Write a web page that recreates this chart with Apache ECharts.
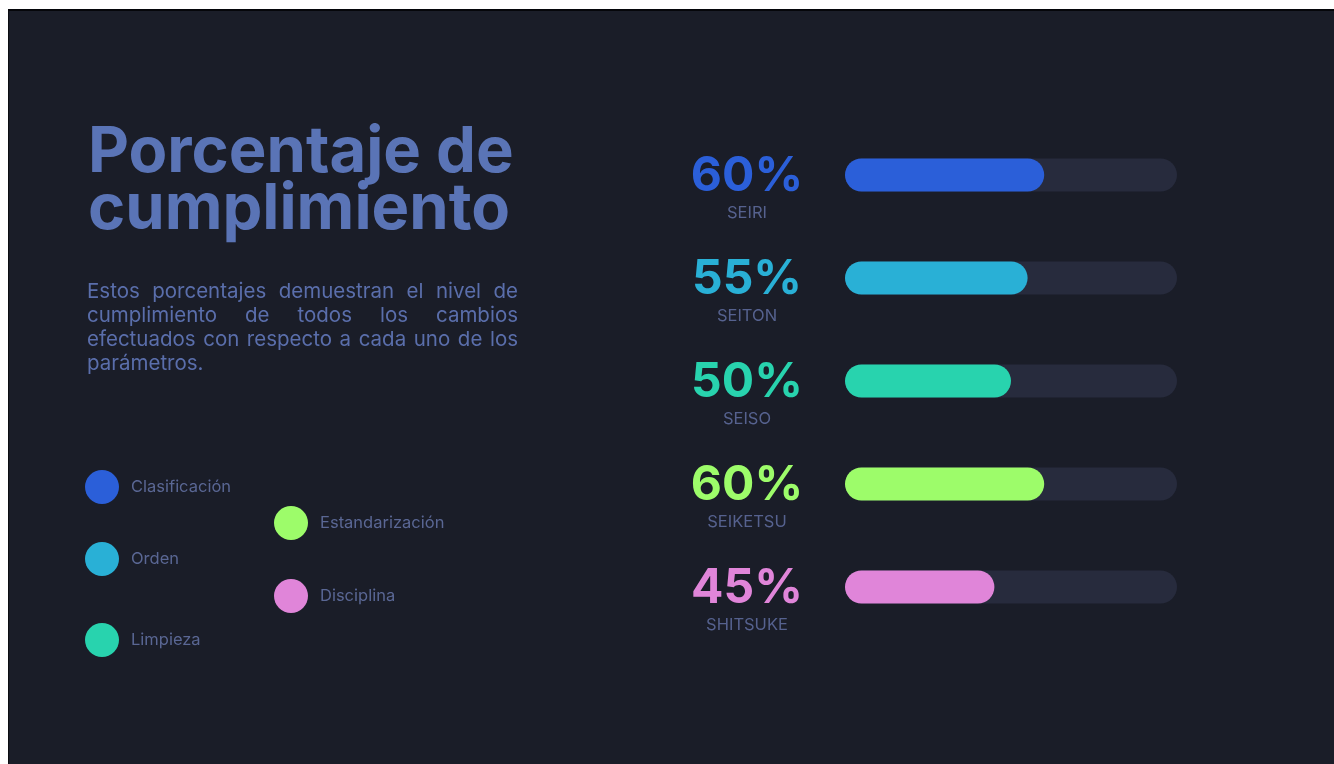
<!DOCTYPE html>
<html>
<head>
<meta charset="utf-8">
<script src="https://cdn.jsdelivr.net/npm/echarts@6/dist/echarts.min.js"></script>
<style>
  html, body { margin: 0; padding: 0; background: #ffffff; width: 1334px; height: 764px; overflow: hidden; }
  #bg { position: absolute; left: 8px; top: 9px; width: 1326px; height: 755px; background: #1a1d28;
        border-top: 2px solid #05060a; border-left: 1px solid #0c0d12; box-sizing: border-box; }
  #chart { position: absolute; left: 0; top: 0; width: 1334px; height: 764px; }
</style>
</head>
<body>
<div id="bg"></div>
<div id="chart"></div>
<script>
// ---- data ----
const codes = ['SEIRI', 'SEITON', 'SEISO', 'SEIKETSU', 'SHITSUKE'];
const values = [60, 55, 50, 60, 45];
const legendNames = ['Clasificación', 'Orden', 'Limpieza', 'Estandarización', 'Disciplina'];
const colors = ['#2b5fd9', '#29b0d6', '#28d3ae', '#9dfc6a', '#e085d9'];
const titleLines = ['Porcentaje de', 'cumplimiento'];
const paraLines = [
  'Estos porcentajes demuestran el nivel de',
  'cumplimiento de todos los cambios',
  'efectuados con respecto a cada uno de los',
  'parámetros.'
];

// ---- layout ----
const legendPos = [[85, 470], [85, 542], [85, 623], [274, 506], [274, 579]];
const trackColor = '#272b3d';
const paraFont = '400 20.5px Inter';
const paraX = 87, paraW = 431, paraY0 = 292, paraLH = 24;

// justified paragraph
const ctx = document.createElement('canvas').getContext('2d');
ctx.font = paraFont;
const paraGraphics = [];
paraLines.forEach((line, li) => {
  const y = paraY0 + li * paraLH;
  const words = line.split(' ');
  const justify = li < paraLines.length - 1 && words.length > 1;
  if (!justify) {
    paraGraphics.push({ type: 'text', x: paraX, y: y, style: { text: line, font: paraFont, fill: '#5a6eab', verticalAlign: 'middle' } });
    return;
  }
  const ws = words.map(w => ctx.measureText(w).width);
  const total = ws.reduce((a, b) => a + b, 0);
  const gap = (paraW - total) / (words.length - 1);
  let x = paraX;
  words.forEach((w, i) => {
    paraGraphics.push({ type: 'text', x: x, y: y, style: { text: w, font: paraFont, fill: '#5a6eab', verticalAlign: 'middle' } });
    x += ws[i] + gap;
  });
});

const rich = { n: { fontSize: 16.5, color: '#56628f', lineHeight: 22, fontFamily: 'Inter, sans-serif' } };
colors.forEach((c, i) => {
  rich['p' + i] = { fontSize: 48, fontWeight: 700, color: c, lineHeight: 50, fontFamily: 'Inter, sans-serif' };
});

const series = [{
  name: 'track', type: 'bar', silent: true, barWidth: 33, barGap: '-100%',
  data: codes.map(() => 100),
  itemStyle: { color: trackColor, borderRadius: 17 }
}];
legendNames.forEach((name, i) => {
  series.push({
    name: name, type: 'bar', barWidth: 33, barGap: '-100%',
    data: values.map((v, j) => j === i ? v : '-'),
    itemStyle: { color: colors[i], borderRadius: 17 }
  });
});

const legends = legendNames.map((name, i) => ({
  data: [name], left: legendPos[i][0], top: legendPos[i][1], padding: 0,
  icon: 'circle', itemWidth: 34, itemHeight: 34, selectedMode: false,
  textStyle: { color: '#5a6794', fontSize: 16.5, fontFamily: 'Inter, sans-serif', padding: [0, 0, 0, 7] }
}));

const chart = echarts.init(document.getElementById('chart'), null, { renderer: 'canvas' });
chart.setOption({
  backgroundColor: 'transparent',
  animation: false,
  title: {
    text: titleLines.join('\n'), left: 83, top: 119,
    textStyle: { color: '#5a74b6', fontSize: 63.3, fontWeight: 700, fontFamily: 'Inter, sans-serif', lineHeight: 57 }
  },
  legend: legends,
  grid: { left: 845, width: 332, top: 123.5, height: 515 },
  xAxis: { type: 'value', min: 0, max: 100, show: false },
  yAxis: {
    type: 'category', inverse: true, data: codes,
    axisLine: { show: false }, axisTick: { show: false }, splitLine: { show: false },
    axisLabel: {
      margin: 98, align: 'center', padding: [26, 0, 0, 0],
      formatter: (val, idx) => `{p${idx}|${values[idx]}%}\n{n|${val}}`,
      rich: rich
    }
  },
  graphic: paraGraphics,
  series: series
});
</script>
</body>
</html>
